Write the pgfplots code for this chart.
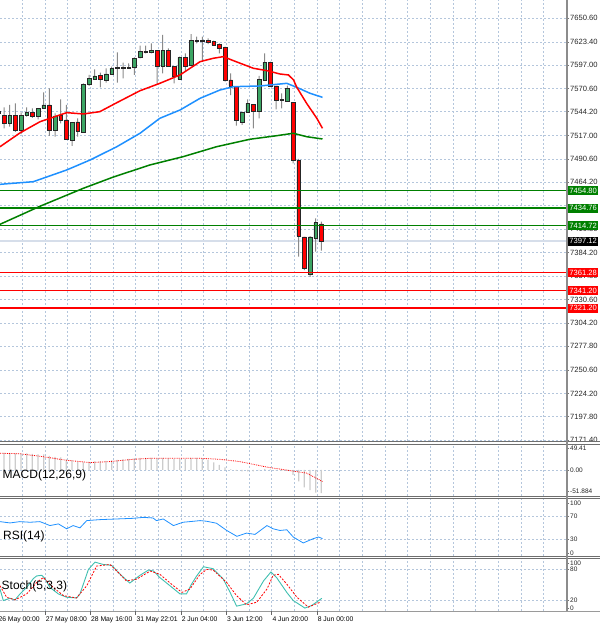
\documentclass[border=0pt]{standalone}
\usepackage{pgfplots}
\usepackage{pgfplotstable}
\pgfplotsset{compat=1.18}
\usepackage{fontspec}
\setmainfont{Liberation Sans}
\definecolor{gridc}{HTML}{B4C6DC}
\definecolor{lvlgreen}{HTML}{008000}
\definecolor{lvlred}{HTML}{FF0000}
\definecolor{cgreen}{HTML}{3CA564}
\definecolor{wickc}{HTML}{8A8A8A}
\definecolor{sepc}{HTML}{6E6E6E}
\definecolor{maBlue}{HTML}{1E90FF}
\definecolor{stochK}{HTML}{3FBFB0}
\definecolor{curline}{HTML}{D6DEEA}

\pgfplotstableread{
i o h l c
-1 7542.0 7549.0 7538.0 7545.0
0 7540.4 7549.1 7525.3 7531.0
1 7531.0 7551.8 7527.1 7540.4
2 7540.4 7553.7 7521.4 7523.4
3 7523.4 7543.5 7518.8 7540.4
4 7539.6 7549.1 7538.5 7543.5
5 7543.5 7548.0 7537.3 7538.5
6 7538.5 7548.0 7535.5 7548.0
7 7548.0 7566.2 7548.0 7551.8
8 7551.8 7570.7 7516.6 7523.4
9 7523.4 7542.3 7515.8 7539.3
10 7540.4 7558.2 7531.0 7534.8
11 7534.8 7551.8 7512.1 7512.8
12 7511.2 7531.7 7505.5 7531.7
13 7532.5 7536.7 7515.8 7522.2
14 7521.4 7576.4 7520.8 7575.3
15 7575.6 7585.9 7573.4 7582.1
16 7581.3 7592.3 7580.2 7585.0
17 7585.5 7588.5 7571.9 7581.0
18 7580.2 7593.4 7577.1 7587.0
19 7587.0 7595.3 7585.9 7593.4
20 7593.4 7611.6 7577.1 7594.6
21 7594.6 7599.8 7582.1 7593.4
22 7594.0 7599.1 7593.4 7594.6
23 7594.6 7605.9 7585.9 7604.8
24 7605.9 7619.1 7604.8 7612.3
25 7613.1 7619.1 7610.5 7611.2
26 7611.2 7621.8 7610.5 7614.2
27 7614.2 7614.2 7575.6 7596.0
28 7596.0 7631.3 7587.8 7614.2
29 7614.2 7616.2 7595.3 7596.0
30 7596.0 7596.0 7576.4 7584.7
31 7581.3 7606.7 7580.2 7605.9
32 7605.9 7610.5 7589.6 7596.0
33 7596.4 7632.4 7596.0 7624.8
34 7624.8 7629.4 7621.8 7623.7
35 7624.8 7629.4 7600.9 7624.0
36 7625.6 7627.5 7621.0 7622.6
37 7623.7 7624.8 7619.1 7619.9
38 7620.7 7621.8 7610.5 7616.2
39 7616.9 7618.0 7578.2 7580.2
40 7580.2 7587.8 7563.1 7573.4
41 7572.6 7572.6 7528.3 7534.8
42 7532.1 7544.2 7529.1 7543.1
43 7543.1 7558.2 7543.1 7553.7
44 7552.9 7552.9 7525.3 7544.2
45 7544.2 7585.0 7536.7 7581.3
46 7580.2 7610.5 7579.4 7600.3
47 7600.3 7601.0 7572.6 7573.4
48 7573.4 7573.4 7546.9 7556.7
49 7558.2 7565.1 7548.0 7557.5
50 7556.3 7573.7 7555.6 7570.8
51 7554.9 7554.9 7485.6 7489.3
52 7489.3 7490.5 7379.5 7403.0
53 7401.9 7401.9 7364.4 7366.7
54 7359.9 7403.0 7356.5 7401.9
55 7400.2 7423.1 7385.2 7418.1
56 7416.7 7419.3 7386.3 7397.12
}\candles

\pgfplotstableread{
i v
-0.706 7504.4
2.8 7520.0
6.35 7532.8
11.06 7543.1
14.0 7541.6
16.9 7544.2
19.9 7554.4
24.0 7568.0
27.5 7576.4
31.06 7585.9
34.6 7601.0
36.9 7604.8
38.7 7606.7
40.5 7602.1
44.0 7593.5
46.4 7590.8
48.7 7587.0
50.2 7585.9
51.1 7580.2
51.65 7572.1
53.4 7553.7
55.2 7536.7
56.2 7525.3
}\maRed

\pgfplotstableread{
i v
-0.706 7461.7
5.17 7464.7
11.06 7478.0
15.18 7489.3
19.9 7504.4
24.0 7519.7
27.5 7536.7
31.06 7546.1
34.6 7559.4
38.1 7568.8
40.5 7572.6
45.2 7573.4
49.9 7576.4
51.65 7571.9
54.0 7565.1
56.2 7560.5
}\maBlueT

\pgfplotstableread{
i v
-0.706 7416.3
6.35 7436.8
14.0 7457.2
19.3 7470.0
25.76 7483.7
31.6 7493.1
37.5 7504.4
43.4 7512.9
48.1 7516.9
51.05 7519.7
53.4 7515.8
56.2 7513.2
}\maGreen

\pgfplotstableread{
i v
-1 34
0 34
1 34
2 33
3 33
4 33
5 32
6 31
7 31
8 28
9 26
10 25
11 21
12 19
13 16
14 15
15 16
16 17
17 17
18 18
19 19
20 20
21 21
22 22
23 23
24 24
25 24
26 24
27 23
28 24
29 23
30 22
31 22
32 22
33 24
34 24
35 22
36 20
37 15
38 10
39 5
40 1
41 -2
42 -3
43 -3
44 -3
45 -1
46 2
47 1
48 -1
49 -2
50 -2
51 -10
52 -23
53 -35
54 -40
55 -45
56 -46
}\macdH

\pgfplotstableread{
i v
-0.706 33
2.8 32
6.35 27
11.1 19
15.2 14.5
18.7 16.5
22.8 21
25.8 23
34.6 23
38.1 21
41.6 16.5
46.4 5.5
50.5 -1.5
53.4 -6.5
56.2 -23
}\macdS

\pgfplotstableread{
i v
-0.706 60.3
1.06 58.0
2.8 60.3
4.6 59.2
6.35 60.3
8.1 53.4
9.6 56.3
11.06 47.7
12.2 53.4
13.4 49.4
14.6 62.1
16.9 63.8
22.8 66.1
24.6 67.8
26.3 66.7
26.9 62.1
28.1 65.0
29.9 53.4
31.6 59.2
33.4 60.9
34.6 62.1
35.8 60.9
37.5 57.5
39.3 44.8
41.1 34.5
42.8 40.2
44.3 37.9
46.4 53.4
47.5 47.7
48.7 44.8
49.9 46.0
51.05 33.3
52.8 22.9
54.6 30.5
55.5 33.3
56.2 30.5
}\rsi

\pgfplotstableread{
i v
-0.706 42.2
-0.12 20.1
1.06 24.5
1.94 21.3
2.82 32.8
4.0 45.3
5.17 62.3
5.76 67.4
6.65 68.7
7.23 62.3
8.1 45.3
9.6 32.8
11.06 26.4
12.8 25.1
13.4 32.8
14.9 80.0
16.06 94.0
17.5 89.5
19.0 87.8
20.5 70.6
22.2 53.7
24.0 68.7
25.5 78.8
26.4 76.9
27.5 64.3
29.3 48.5
31.06 32.8
32.2 32.8
33.1 51.7
34.0 67.4
35.2 85.1
36.9 81.3
38.7 61.2
39.9 35.8
41.05 9.3
42.8 13.8
44.0 24.5
45.8 57.9
47.1 75.0
48.1 64.3
49.9 35.8
51.05 20.1
53.1 5.6
54.3 10.6
56.1 24.5
}\stK

\pgfplotstableread{
i v
-0.706 48.5
0.47 26.4
1.94 21.3
4.0 32.8
5.76 54.8
6.94 64.3
8.7 45.3
10.5 29.5
12.8 25.1
14.6 48.5
16.35 86.4
18.7 89.5
19.9 76.9
21.6 57.9
23.4 61.2
25.8 76.9
27.5 70.6
29.9 48.5
31.4 35.8
32.8 42.2
34.6 70.6
35.8 80.0
36.9 78.8
39.3 54.8
41.05 29.5
42.8 11.9
44.6 16.9
46.4 42.2
47.5 68.7
48.4 70.6
49.9 51.7
51.7 26.4
53.7 7.4
55.8 16.9
}\stD

\pgfplotsset{
  panel/.style={scale only axis, width=567pt, xmin=-0.706, xmax=99.35,
    anchor=south west, axis line style={draw=none},
    xtick={3.2,7.2,...,95.3}, xticklabels={}, xtick style={draw=none},
    xmajorgrids,
    major grid style={gridc, dash pattern=on 2pt off 2pt, line width=0.6pt},
    ytick pos=right, yticklabel pos=right, tick align=outside,
    major tick length=2pt, ytick style={draw=black!55, line width=0.6pt},
    yticklabel style={anchor=west, inner sep=0pt, xshift=1pt,
      text=black!85, font=\fontsize{6.5}{7}\selectfont}},
  overlay/.style={scale only axis, width=567pt, height=441pt,
    xmin=-0.706, xmax=99.35, ymin=7170.24, ymax=7671.04,
    anchor=south west, at={(0pt,185pt)}, hide axis},
}

\begin{document}
\begin{tikzpicture}
% ---------- main panel: grid and price scale
\begin{axis}[panel, at={(0pt,185pt)}, height=441pt,
  ymin=7170.24, ymax=7671.04, ymajorgrids,
  ytick={7650.6,7623.4,7597.0,7570.6,7544.2,7517.0,7490.6,7464.2,7437.8,7410.8,7384.2,7357.8,7330.6,7304.2,7277.8,7250.6,7224.2,7197.8,7171.4},
  yticklabels={7650.60,7623.40,7597.00,7570.60,7544.20,7517.00,7490.60,7464.20,{},7410.80,7384.20,7357.80,7330.60,7304.20,7277.80,7250.60,7224.20,7197.80,7171.40},
  yticklabel style={font=\fontsize{7.6}{8}\selectfont}]
\addplot[curline, line width=1.6pt] coordinates {(-0.706,7397.12) (99.35,7397.12)};
\end{axis}
% ---------- wicks
\begin{axis}[overlay, ybar stacked, bar width=1.0pt]
\addplot[draw=none, fill=none] table[x=i, y=l] {\candles};
\addplot[draw=none, fill=wickc] table[x=i, y expr={\thisrow{h}-\thisrow{l}}] {\candles};
\end{axis}
% ---------- bodies
\begin{axis}[overlay, ybar stacked, bar width=3.6pt]
\addplot[draw=none, fill=none] table[x=i, y expr={min(\thisrow{o},\thisrow{c})}] {\candles};
\addplot[draw=black!85, line width=0.5pt, fill=cgreen] table[x=i, y expr={max(\thisrow{c}-\thisrow{o},0)}] {\candles};
\addplot[draw=black!85, line width=0.5pt, fill=red] table[x=i, y expr={max(\thisrow{o}-\thisrow{c},0)}] {\candles};
\end{axis}
% ---------- moving averages, levels, level boxes
\begin{axis}[overlay, clip=false]
\addplot[lvlgreen, line width=1.5pt] table[x=i, y=v] {\maGreen};
\addplot[maBlue, line width=1.5pt] table[x=i, y=v] {\maBlueT};
\addplot[red, line width=1.5pt] table[x=i, y=v] {\maRed};
\addplot[lvlgreen, line width=1.4pt] coordinates {(-0.706,7454.80) (99.35,7454.80)};
\addplot[lvlgreen, line width=1.4pt] coordinates {(-0.706,7434.76) (99.35,7434.76)};
\addplot[lvlgreen, line width=1.4pt] coordinates {(-0.706,7414.72) (99.35,7414.72)};
\addplot[lvlred, line width=1.4pt] coordinates {(-0.706,7361.28) (99.35,7361.28)};
\addplot[lvlred, line width=1.4pt] coordinates {(-0.706,7341.20) (99.35,7341.20)};
\addplot[lvlred, line width=1.4pt] coordinates {(-0.706,7321.20) (99.35,7321.20)};
\tikzset{lbl/.style={anchor=west, text=white, inner xsep=1.2pt, inner ysep=0pt,
  minimum height=9pt, xshift=1pt, font=\fontsize{7.6}{8}\selectfont}}
\node[lbl, fill=lvlgreen] at (axis cs:99.35,7454.80) {7454.80};
\node[lbl, fill=lvlgreen] at (axis cs:99.35,7434.76) {7434.76};
\node[lbl, fill=lvlgreen] at (axis cs:99.35,7414.72) {7414.72};
\node[lbl, fill=black] at (axis cs:99.35,7397.12) {7397.12};
\node[lbl, fill=lvlred] at (axis cs:99.35,7361.28) {7361.28};
\node[lbl, fill=lvlred] at (axis cs:99.35,7341.20) {7341.20};
\node[lbl, fill=lvlred] at (axis cs:99.35,7321.20) {7321.20};
\end{axis}
% ---------- MACD
\begin{axis}[panel, at={(0pt,130pt)}, height=51pt, ymin=-51.884, ymax=49.41,
  ytick={0}, yticklabels={0.00}, ymajorgrids,
  extra y ticks={43.8,-41.8}, extra y tick labels={49.41,-51.884},
  extra y tick style={grid=none}]
\addplot[ybar, bar width=1.2pt, fill=black!20, draw=none] table[x=i, y=v] {\macdH};
\addplot[red, line width=0.8pt, densely dotted] table[x=i, y=v] {\macdS};
\end{axis}
% ---------- RSI
\begin{axis}[panel, at={(0pt,70pt)}, height=57pt, ymin=0, ymax=100,
  ytick={70,30}, yticklabels={70,30}, ymajorgrids,
  extra y ticks={92.5,5.3}, extra y tick labels={100,0},
  extra y tick style={grid=none}]
\addplot[maBlue, line width=0.8pt] table[x=i, y=v] {\rsi};
\end{axis}
% ---------- Stochastic
\begin{axis}[panel, at={(0pt,15pt)}, height=52pt, ymin=0, ymax=100,
  ytick={80,20}, yticklabels={80,20}, ymajorgrids,
  extra y ticks={92,5.5}, extra y tick labels={100,0},
  extra y tick style={grid=none}]
\addplot[stochK, line width=0.9pt] table[x=i, y=v] {\stK};
\addplot[red, line width=0.8pt, dash pattern=on 2pt off 1.5pt] table[x=i, y=v] {\stD};
\end{axis}
% ---------- frames and separators
\foreach \ya/\yb in {181/185, 127/130, 67/70}{
  \draw[sepc, line width=0.9pt] (0pt,\yb pt-0.45pt) -- (600pt,\yb pt-0.45pt);
  \draw[sepc, line width=0.9pt] (0pt,\ya pt+0.45pt) -- (600pt,\ya pt+0.45pt);
}
\draw[sepc!70, line width=0.8pt] (0pt,15pt) -- (600pt,15pt);
\draw[black!45, line width=1.1pt] (567pt,15pt) -- (567pt,626pt);
% ---------- panel titles
\node[anchor=west, inner sep=0pt, font=\fontsize{12}{13}\selectfont] at (2.5pt,151pt) {MACD(12,26,9)};
\node[anchor=west, inner sep=0pt, font=\fontsize{12}{13}\selectfont] at (3pt,90pt) {RSI(14)};
\node[anchor=west, inner sep=0pt, font=\fontsize{12}{13}\selectfont] at (1.5pt,40pt) {Stoch(5,3,3)};
% ---------- time axis labels
\foreach \xx/\tt in {-2.5/26 May 00:00, 44.8/27 May 08:00, 90.1/28 May 16:00, 135.5/31 May 22:01, 180.8/2 Jun 04:00, 226.1/3 Jun 12:00, 271.5/4 Jun 20:00, 316.8/8 Jun 00:00}{
  \draw[black!60, line width=0.6pt] (\xx pt,15pt) -- (\xx pt,11pt);
  \node[anchor=base west, inner sep=0pt, font=\fontsize{6.8}{7}\selectfont] at (\xx pt+0.8pt,4.5pt) {\tt};
}
\pgfresetboundingbox
\path[use as bounding box] (0pt,0pt) rectangle (600pt,626pt);
\end{tikzpicture}
\end{document}
